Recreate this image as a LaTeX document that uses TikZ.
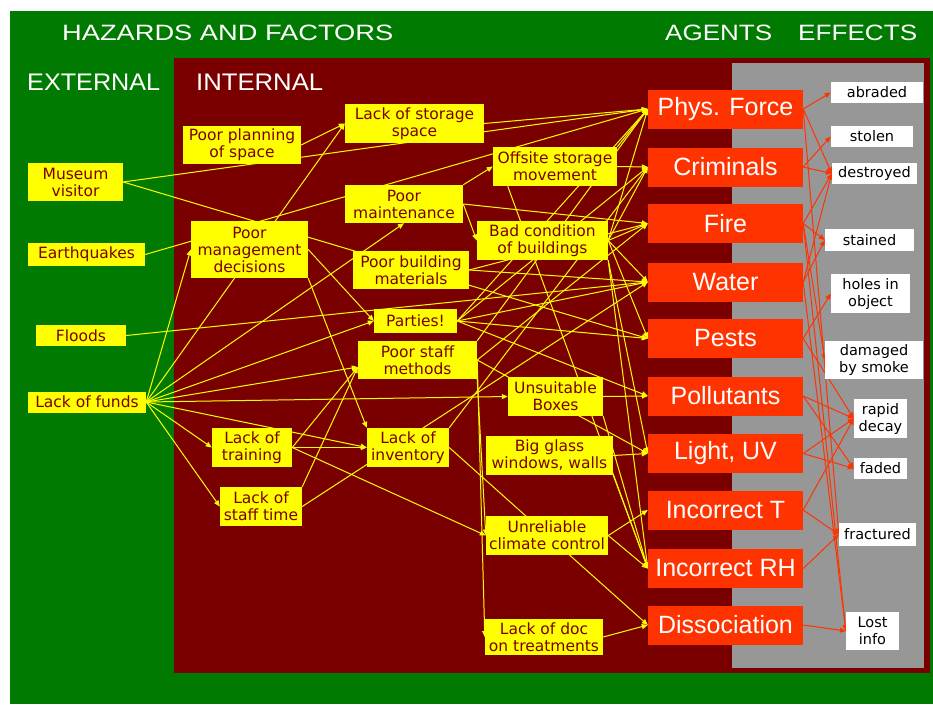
\documentclass[tikz,border=0pt]{standalone}
\usepackage{fontspec}
\usepackage{graphicx}
\setmainfont{DejaVu Sans}
\newfontfamily\headfont{Liberation Sans}
\usetikzlibrary{arrows.meta,calc}
\definecolor{bggreen}{RGB}{0,122,0}
\definecolor{bgred}{RGB}{122,0,0}
\definecolor{bggray}{RGB}{151,151,151}
\definecolor{yel}{RGB}{255,255,0}
\definecolor{agentred}{RGB}{255,51,0}
\definecolor{ytext}{RGB}{122,0,0}
\pgfdeclarelayer{back}
\pgfdeclarelayer{lines}
\pgfsetlayers{back,lines,main}
\tikzset{
  ybox/.style={fill=yel, text=ytext, inner sep=0pt, align=center,
    font=\fontsize{15.5}{17}\selectfont},
  abox/.style={fill=agentred, text=white, inner sep=0pt, minimum width=155pt,
    minimum height=39pt, font=\headfont\fontsize{25}{28}\selectfont},
  ebox/.style={fill=white, text=black, inner sep=0pt, align=center,
    font=\fontsize{14.5}{17}\selectfont},
  title/.style={text=white, inner sep=0pt, anchor=west},
  yarr/.style={draw=yel, line width=1pt, -{Triangle[length=6pt,width=5pt]}},
  rarr/.style={draw=agentred, line width=1pt, -{Triangle[length=6pt,width=5pt]}}
}
\begin{document}
\begin{tikzpicture}[x=1pt,y=-1pt]
\useasboundingbox (0,0) rectangle (933,704);
% backgrounds
\begin{pgfonlayer}{back}
\fill[white] (0,0) rectangle (933,704);
\fill[bggreen] (10,11) rectangle (933,704);
\fill[bgred] (174,58) rectangle (930,673);
\fill[bggray] (732,63) rectangle (924,668);
\end{pgfonlayer}
% titles
\node[title] (thaz) at (62,32.5) {\resizebox{331pt}{15.5pt}{\headfont HAZARDS AND FACTORS}};
\node[title] (tag) at (665,32.5) {\resizebox{107pt}{15.5pt}{\headfont AGENTS}};
\node[title] (teff) at (798,32.5) {\resizebox{119pt}{15.5pt}{\headfont EFFECTS}};
\node[title] (text) at (27,82) {\resizebox{133pt}{16.5pt}{\headfont EXTERNAL}};
\node[title] (tint) at (196,82) {\resizebox{127pt}{16.5pt}{\headfont INTERNAL}};
% external
\node[ybox, minimum width=95pt, minimum height=38pt] (visitor) at (75.5,182) {Museum\\visitor};
\node[ybox, minimum width=117pt, minimum height=23pt] (quakes) at (86.5,254.5) {Earthquakes};
\node[ybox, minimum width=90pt, minimum height=21pt] (floods) at (81,335.5) {Floods};
\node[ybox, minimum width=118pt, minimum height=21pt] (funds) at (87,402) {Lack of funds};
% internal
\node[ybox, minimum width=118pt, minimum height=38pt] (planning) at (242,145) {Poor planning\\of space};
\node[ybox, minimum width=139pt, minimum height=39pt] (storage) at (414.5,123.5) {Lack of storage\\space};
\node[ybox, minimum width=118pt, minimum height=38pt] (maint) at (404,204) {Poor\\maintenance};
\node[ybox, minimum width=117pt, minimum height=57pt] (mgmt) at (249.5,249.5) {Poor\\management\\decisions};
\node[ybox, minimum width=116pt, minimum height=38pt] (building) at (411,270) {Poor building\\materials};
\node[ybox, minimum width=124pt, minimum height=39pt] (offsite) at (555,166.5) {Offsite storage\\movement};
\node[ybox, minimum width=131pt, minimum height=39pt] (badcond) at (542.5,240.5) {Bad condition\\of buildings};
\node[ybox, minimum width=83pt, minimum height=24pt] (parties) at (415.5,321) {Parties!};
\node[ybox, minimum width=119pt, minimum height=38pt] (staffmeth) at (417.5,360) {Poor staff\\methods};
\node[ybox, minimum width=80pt, minimum height=39pt] (training) at (252,447.5) {Lack of\\training};
\node[ybox, minimum width=82pt, minimum height=39pt] (inventory) at (408,447.5) {Lack of\\inventory};
\node[ybox, minimum width=82pt, minimum height=39pt] (stafftime) at (261,506.5) {Lack of\\staff time};
\node[ybox, minimum width=95pt, minimum height=39pt] (boxes) at (555.5,396.5) {Unsuitable\\Boxes};
\node[ybox, minimum width=127pt, minimum height=39pt] (glass) at (549.5,455.5) {Big glass\\windows, walls};
\node[ybox, minimum width=122pt, minimum height=39pt] (climate) at (547,535.5) {Unreliable\\climate control};
\node[ybox, minimum width=118pt, minimum height=36pt] (doc) at (544,637) {Lack of doc\\on treatments};
% agents
\node[abox] (phys) at (725.5,109) {Phys. Force};
\node[abox] (crim) at (725.5,167) {Criminals};
\node[abox] (fire) at (725.5,223.5) {Fire};
\node[abox] (water) at (725.5,282) {Water};
\node[abox] (pests) at (725.5,338.5) {Pests};
\node[abox] (poll) at (725.5,396) {Pollutants};
\node[abox] (light) at (725.5,453.5) {Light, UV};
\node[abox] (inct) at (725.5,510) {Incorrect T};
\node[abox] (incrh) at (725.5,568.5) {Incorrect RH};
\node[abox] (dissoc) at (725.5,625) {Dissociation};
% effects
\node[ebox, minimum width=92pt, minimum height=21pt] (abraded) at (877,92.5) {abraded};
\node[ebox, minimum width=82pt, minimum height=21pt] (stolen) at (872,136.5) {stolen};
\node[ebox, minimum width=85pt, minimum height=21pt] (destroyed) at (874.5,173.5) {destroyed};
\node[ebox, minimum width=89pt, minimum height=22pt] (stained) at (869.5,240) {stained};
\node[ebox, minimum width=79pt, minimum height=39pt] (holes) at (870.5,293.5) {holes in\\object};
\node[ebox, minimum width=98pt, minimum height=38pt] (smoke) at (874,360) {damaged\\by smoke};
\node[ebox, minimum width=53pt, minimum height=39pt] (rapid) at (880.5,418.5) {rapid\\decay};
\node[ebox, minimum width=53pt, minimum height=21pt] (faded) at (880.5,468.5) {faded};
\node[ebox, minimum width=77pt, minimum height=23pt] (fractured) at (877.5,534.5) {fractured};
\node[ebox, minimum width=53pt, minimum height=38pt] (lost) at (872.5,631) {Lost\\info};
% helper coordinates
\coordinate (smin) at ($(staffmeth.west)+(0,7)$);
\coordinate (offs) at ($(offsite.south west)!0.12!(offsite.south east)$);
% connectors
\begin{pgfonlayer}{lines}
\draw[yarr] (visitor.east) -- (phys.west);
\draw[yarr] (visitor.east) -- (pests.west);
\draw[yarr] (quakes.east) -- (phys.west);
\draw[yarr] (floods.east) -- (water.west);
\draw[yarr] (funds.east) -- (mgmt.west);
\draw[yarr] (funds.east) -- (storage.west);
\draw[yarr] (funds.east) -- (maint.south);
\draw[yarr] (funds.east) -- (parties.west);
\draw[yarr] (funds.east) -- (smin);
\draw[yarr] (funds.east) -- (boxes.west);
\draw[yarr] (funds.east) -- (training.west);
\draw[yarr] (funds.east) -- (inventory.west);
\draw[yarr] (funds.east) -- (stafftime.west);
\draw[yarr] (planning.east) -- (storage.west);
\draw[yarr] (storage.east) -- (phys.west);
\draw[yarr] (maint.north east) -- (offsite.west);
\draw[yarr] (maint.east) -- (fire.west);
\draw[yarr] (maint.east) -- (badcond.west);
\draw[yarr] (mgmt.east) -- (parties.west);
\draw[yarr] (mgmt.south east) -- (inventory.north west);
\draw[yarr] (training.east) -- (smin);
\draw[yarr] (stafftime.north east) -- (smin);
\draw[yarr] (training.east) -- (inventory.west);
\draw[yarr] (training.east) -- (climate.west);
\draw[yarr] (stafftime.east) -- (water.west);
\draw[yarr] (inventory.north east) -- (crim.west);
\draw[yarr] (inventory.east) -- (dissoc.west);
\draw[yarr] (staffmeth.east) -- (doc.west);
\draw[yarr] (staffmeth.south east) -- (climate.west);
\draw[yarr] (staffmeth.north east) -- (phys.west);
\draw[yarr] (staffmeth.east) -- (fire.west);
\draw[yarr] (staffmeth.east) -- (light.west);
\draw[yarr] (parties.east) -- (phys.west);
\draw[yarr] (parties.east) -- (crim.west);
\draw[yarr] (parties.east) -- (water.west);
\draw[yarr] (parties.east) -- (pests.west);
\draw[yarr] (parties.east) -- (poll.west);
\draw[yarr] (building.east) -- (fire.west);
\draw[yarr] (building.east) -- (water.west);
\draw[yarr] (offsite.east) -- (crim.west);
\draw[yarr] (offsite.north east) -- (phys.west);
\draw[yarr] (offs) -- (incrh.west);
\draw[yarr] (badcond.east) -- (phys.west);
\draw[yarr] (badcond.east) -- (crim.west);
\draw[yarr] (badcond.east) -- (fire.west);
\draw[yarr] (badcond.east) -- (water.west);
\draw[yarr] (badcond.east) -- (pests.west);
\draw[yarr] (badcond.south east) -- (incrh.west);
\draw[yarr] (badcond.south east) -- (light.west);
\draw[yarr] (boxes.east) -- (poll.west);
\draw[yarr] (boxes.south east) -- (incrh.west);
\draw[yarr] (glass.east) -- (light.west);
\draw[yarr] (glass.south east) -- (incrh.west);
\draw[yarr] (climate.east) -- (inct.west);
\draw[yarr] (climate.east) -- (incrh.west);
\draw[yarr] (doc.east) -- (dissoc.west);
% agents to effects
\draw[rarr] (phys.east) -- (abraded.west);
\draw[rarr] (phys.east) -- (destroyed.west);
\draw[rarr] (phys.east) -- (fractured.west);
\draw[rarr] (crim.east) -- (stolen.west);
\draw[rarr] (crim.east) -- (destroyed.west);
\draw[rarr] (fire.east) -- (destroyed.west);
\draw[rarr] (fire.east) -- (stained.west);
\draw[rarr] (fire.east) -- (smoke.west);
\draw[rarr] (fire.east) -- (lost.west);
\draw[rarr] (water.east) -- (stained.west);
\draw[rarr] (water.east) -- (destroyed.west);
\draw[rarr] (water.east) -- (lost.west);
\draw[rarr] (pests.east) -- (holes.west);
\draw[rarr] (pests.east) -- (rapid.west);
\draw[rarr] (poll.east) -- (rapid.west);
\draw[rarr] (poll.east) -- (faded.west);
\draw[rarr] (light.east) -- (faded.west);
\draw[rarr] (light.east) -- (rapid.west);
\draw[rarr] (inct.east) -- (rapid.west);
\draw[rarr] (inct.east) -- (fractured.west);
\draw[rarr] (incrh.east) -- (fractured.west);
\draw[rarr] (dissoc.east) -- (lost.west);
\end{pgfonlayer}
\end{tikzpicture}
\end{document}
